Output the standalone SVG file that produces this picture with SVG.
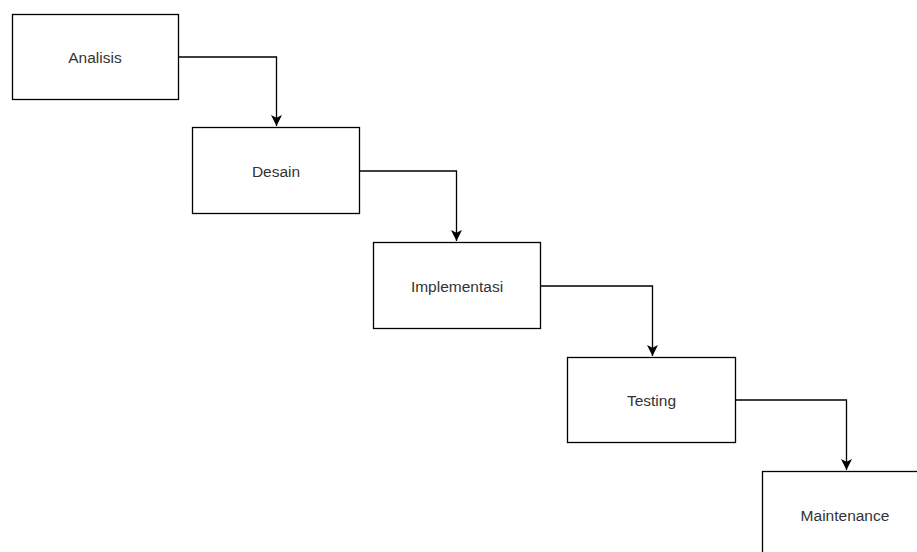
<svg xmlns="http://www.w3.org/2000/svg" width="917" height="552" viewBox="0 0 917 552">
<style>
.box{fill:#fff;stroke:#000;stroke-width:1.3}
.lbl{font-family:"Liberation Sans",Arial,sans-serif;font-size:15.5px;fill:#333;text-anchor:middle;dominant-baseline:central}
.edge{fill:none;stroke:#000;stroke-width:1.3}
</style>
<defs>
<marker id="arr" markerWidth="14" markerHeight="14" refX="11" refY="6" orient="auto" markerUnits="userSpaceOnUse">
<path d="M0,0.5 L11,6 L0,11.5 L2.8,6 Z" fill="#000"/>
</marker>
</defs>
<rect width="917" height="552" fill="#fff"/>
<g id="connectors">
<path class="edge" d="M178.5,57 H276.5 V126" marker-end="url(#arr)"/>
<path class="edge" d="M359.5,171 H456.5 V241" marker-end="url(#arr)"/>
<path class="edge" d="M540.5,286 H652.5 V356" marker-end="url(#arr)"/>
<path class="edge" d="M735.5,400 H846.5 V470" marker-end="url(#arr)"/>
</g>
<g id="analisis"><rect class="box" x="12.5" y="14.5" width="166" height="85"/><text class="lbl" x="95" y="57">Analisis</text></g>
<g id="desain"><rect class="box" x="192.5" y="127.5" width="167" height="86"/><text class="lbl" x="276" y="171">Desain</text></g>
<g id="implementasi"><rect class="box" x="373.5" y="242.5" width="167" height="86"/><text class="lbl" x="457" y="286">Implementasi</text></g>
<g id="testing"><rect class="box" x="567.5" y="357.5" width="168" height="85"/><text class="lbl" x="651.5" y="400">Testing</text></g>
<g id="maintenance"><rect class="box" x="762.5" y="471.5" width="167" height="86"/><text class="lbl" x="845" y="515">Maintenance</text></g>
</svg>
